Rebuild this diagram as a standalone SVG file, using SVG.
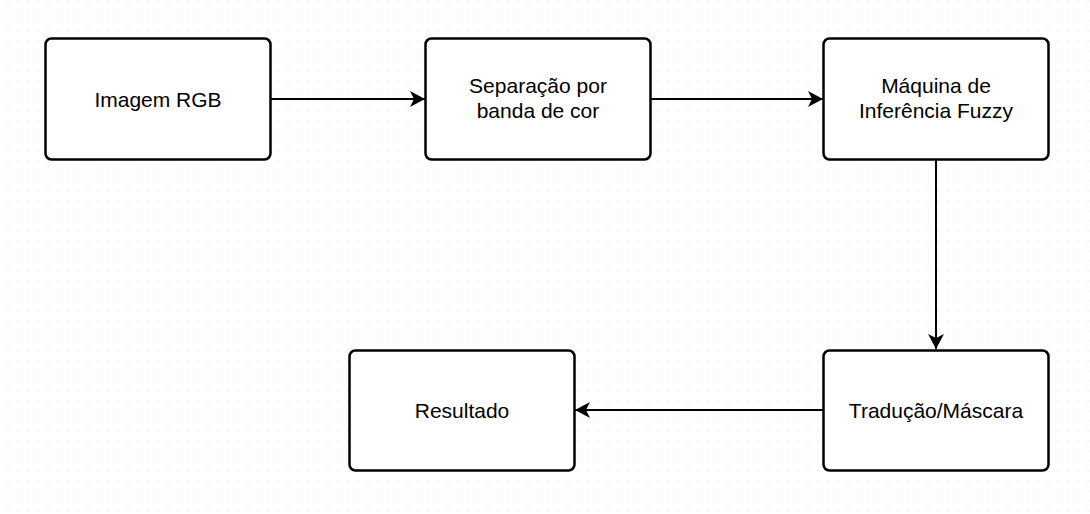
<svg xmlns="http://www.w3.org/2000/svg" width="1090" height="514" viewBox="0 0 1090 514">
<defs>
<pattern id="grid" x="7" y="0" width="10" height="10" patternUnits="userSpaceOnUse">
<rect x="0.5" y="0.5" width="1" height="1" fill="#cfcfcf"/>
</pattern>
<marker id="arr" viewBox="0 0 16 16" markerWidth="16" markerHeight="16" refX="15" refY="8" orient="auto" markerUnits="userSpaceOnUse">
<path d="M0,0 L15,8 L0,16 L4,8 Z" fill="#000"/>
</marker>
<style>
.box{fill:#fff;stroke:#000;stroke-width:2.5}
.lbl{font-family:"Liberation Sans",Arial,sans-serif;font-size:21px;fill:#000;text-anchor:middle}
.edge{fill:none;stroke:#000;stroke-width:2}
</style>
</defs>
<rect width="1090" height="514" fill="#fff"/>
<rect width="1090" height="514" fill="url(#grid)"/>
<g id="connectors">
<path class="edge" d="M271,99 L425,99" marker-end="url(#arr)"/>
<path class="edge" d="M651,99 L823,99" marker-end="url(#arr)"/>
<path class="edge" d="M936,160 L936,349" marker-end="url(#arr)"/>
<path class="edge" d="M824,410 L575,410" marker-end="url(#arr)"/>
</g>
<g id="n1"><rect class="box" x="45.5" y="38.5" width="225" height="121" rx="6"/><text class="lbl" x="158" y="106.5">Imagem RGB</text></g>
<g id="n2"><rect class="box" x="425.5" y="38.5" width="225" height="121" rx="6"/><text class="lbl" x="538" y="93">Separação por</text><text class="lbl" x="538" y="118">banda de cor</text></g>
<g id="n3"><rect class="box" x="823.5" y="38.5" width="225" height="121" rx="6"/><text class="lbl" x="936" y="93">Máquina de</text><text class="lbl" x="936" y="118">Inferência Fuzzy</text></g>
<g id="n4"><rect class="box" x="823.5" y="350.5" width="225" height="120" rx="6"/><text class="lbl" x="936" y="417.5">Tradução/Máscara</text></g>
<g id="n5"><rect class="box" x="349.5" y="350.5" width="225" height="120" rx="6"/><text class="lbl" x="462" y="417.5">Resultado</text></g>
</svg>
